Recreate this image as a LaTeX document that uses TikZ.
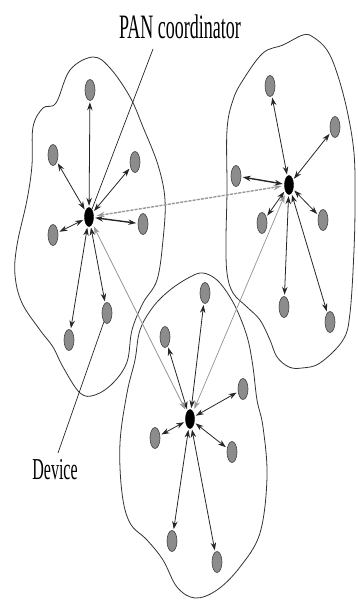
\documentclass[tikz,border=0pt]{standalone}
\usepackage{fontspec}
\setmainfont{Liberation Serif}
\usetikzlibrary{arrows.meta,shapes.geometric}
\begin{document}
\begin{tikzpicture}[x=1pt,y=-1pt,
  coord/.style={ellipse,fill=black,draw=black,minimum width=9pt,minimum height=19pt,inner sep=0pt},
  dev/.style={ellipse,fill=black!45,draw=black!75,line width=0.6pt,minimum width=10pt,minimum height=21pt,inner sep=0pt},
  link/.style={{Stealth[length=8pt,width=5.5pt]}-{Stealth[length=8pt,width=5.5pt]},line width=0.8pt,draw=black!85,shorten >=1.5pt,shorten <=1.5pt},
  thick link/.style={link,line width=1.4pt},
  glink/.style={{Stealth[length=8pt,width=5.5pt]}-{Stealth[length=8pt,width=5.5pt]},line width=0.7pt,draw=black!40,fill=black!40,shorten >=3pt,shorten <=3pt},
  dlink/.style={glink,line width=1.4pt,dash pattern=on 3pt off 1.2pt},
  blob/.style={draw=black!80,line width=0.8pt},
  lbl/.style={inner sep=0pt,font=\fontsize{18}{18}\selectfont}
]
\useasboundingbox (0,0) rectangle (357,602);

% outlines
\draw[blob] plot[smooth cycle,tension=0.6] coordinates {
 (33,127) (43,108) (56,103) (70,70) (93,57) (110,68) (130,97) (143,127)
 (158,165) (165,200) (163,240) (157,280) (143,303) (132,330) (127,362)
 (113,383) (95,395) (80,393) (63,367) (53,347) (40,330) (22,303) (15,275)
 (17,245) (27,200) (32,165)};
\draw[blob] plot[smooth cycle,tension=0.6] coordinates {
 (227,130) (233,100) (243,80) (263,53) (283,45) (303,35) (313,37) (327,50)
 (337,73) (347,110) (354,153) (355,200) (354,250) (350,313) (343,340)
 (320,363) (302,368) (289,367) (277,357) (270,340) (260,320) (247,307)
 (233,293) (227,273) (226,240) (227,190)};
\draw[blob] plot[smooth cycle,tension=0.6] coordinates {
 (190,277) (203,273) (217,280) (230,297) (240,317) (248,340) (253,367)
 (257,400) (263,427) (267,477) (260,533) (240,567) (217,590) (195,598)
 (177,587) (163,560) (147,540) (130,523) (122,493) (120,443) (127,393)
 (135,360) (140,330) (153,307) (170,290)};

% left cluster
\node[coord] (L) at (89,217) {};
\node[dev] (L1) at (90,90) {};
\node[dev] (L2) at (53,155) {};
\node[dev] (L3) at (135,162) {};
\node[dev] (L4) at (53,235) {};
\node[dev] (L5) at (143,224) {};
\node[dev] (L6) at (69,340) {};
\node[dev] (L7) at (107,313) {};

% right cluster
\node[coord] (R) at (289,185) {};
\node[dev] (R1) at (270,86) {};
\node[dev] (R2) at (335,127) {};
\node[dev] (R3) at (236,176) {};
\node[dev] (R4) at (262,223) {};
\node[dev] (R5) at (323,220) {};
\node[dev] (R6) at (284,307) {};
\node[dev] (R7) at (330,322) {};

% bottom cluster
\node[coord] (B) at (190,419) {};
\node[dev] (B1) at (165,337) {};
\node[dev] (B2) at (205,293) {};
\node[dev] (B3) at (243,389) {};
\node[dev] (B4) at (155,438) {};
\node[dev] (B5) at (232,452) {};
\node[dev] (B6) at (172,541) {};
\node[dev] (B7) at (217,562) {};

% links
\foreach \d in {L1,L2,L3,L4,L6,L7} \draw[link] (L) -- (\d);
\draw[thick link] (L) -- (L5);
\foreach \d in {R1,R2,R4,R5,R6,R7} \draw[link] (R) -- (\d);
\draw[thick link] (R) -- (R3);
\foreach \d in {B1,B2,B3,B4,B5,B6,B7} \draw[link] (B) -- (\d);

% coordinator links
\draw[dlink] (L) -- (R);
\draw[glink] (L) -- (B);
\draw[glink] (R) -- (B);

% labels
\node[lbl] (pan) at (180,27) {\scalebox{1}[1.9]{PAN coordinator}};
\coordinate (panfoot) at (153,49);
\draw[line width=0.7pt,black!85] (panfoot) -- (L);
\node[lbl] (devlbl) at (55,470) {\scalebox{1}[1.9]{\fontsize{16}{16}\selectfont Device}};
\coordinate (devfoot) at (58,453);
\draw[line width=0.7pt,black!85] (devfoot) -- (L7);
\end{tikzpicture}
\end{document}
